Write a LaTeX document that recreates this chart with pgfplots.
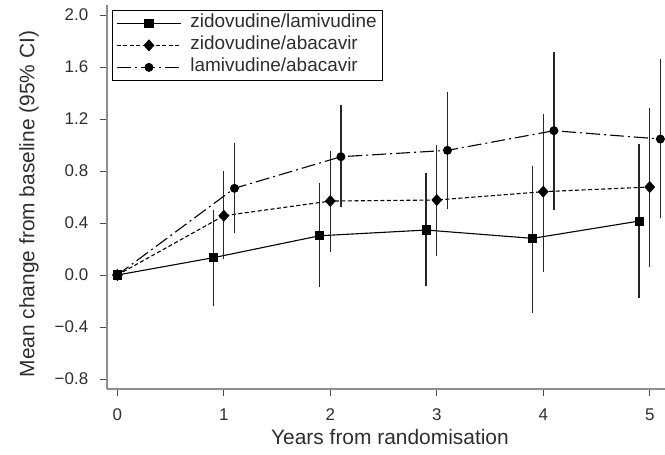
\documentclass[border=0pt]{standalone}
\usepackage{fontspec}
\setmainfont{Liberation Sans}
\usepackage{pgfplots}
\pgfplotsset{compat=1.18}
\usepackage{pgfplotstable}

\definecolor{axgray}{HTML}{8E8E8E}
\definecolor{txt}{HTML}{2E2E2E}

% x, mean, upper and lower half-widths of the 95% CI
\pgfplotstableread{
x    y     ep    em
0    0     0     0
0.9  0.133 0.367 0.371
1.9  0.302 0.403 0.392
2.9  0.346 0.441 0.431
3.9  0.282 0.556 0.577
4.9  0.415 0.590 0.595
}\zidlam

\pgfplotstableread{
x    y     ep    em
0    0     0     0
1    0.456 0.344 0.336
2    0.569 0.387 0.389
3    0.577 0.423 0.431
4    0.641 0.595 0.615
5    0.677 0.610 0.617
}\zidaba

\pgfplotstableread{
x    y     ep    em
0    0     0     0
1.1  0.667 0.346 0.347
2.1  0.910 0.400 0.390
3.1  0.959 0.446 0.451
4.1  1.110 0.608 0.610
5.1  1.046 0.614 0.610
}\lamaba

\begin{document}
\begin{tikzpicture}
\path[use as bounding box] (-106.7bp,-65.7bp) rectangle (558.3bp,389.3bp);
\begin{axis}[
  at={(0,0)}, anchor=south west,
  scale only axis, width=558.3bp, height=384.3bp,
  xmin=-0.1, xmax=5.1435, ymin=-0.879, ymax=2.077,
  axis lines*=left,
  axis line style={-, draw=axgray, line width=1.8bp},
  xtick={0,1,2,3,4,5},
  xticklabels={0,1,2,3,4,5},
  ytick={-0.8,-0.4,0,0.4,0.8,1.2,1.6,2.0},
  yticklabels={−0.8,−0.4,0.0,0.4,0.8,1.2,1.6,2.0},
  tick align=outside, major tick length=7bp,
  tick style={black!70, line width=1bp},
  ticklabel style={font=\fontsize{17}{20}\selectfont, text=txt},
  xticklabel style={yshift=-9bp},
  yticklabel style={xshift=-8bp},
  /pgf/number format/assume math mode=true,
  xlabel={Years from randomisation},
  ylabel={Mean change from baseline (95\% CI)},
  label style={font=\fontsize{21}{25}\selectfont, text=txt},
  xlabel style={at={(axis description cs:0.5074,-0.1241)}, anchor=center},
  ylabel style={at={(axis description cs:-0.1392,0.482)}, anchor=center},
  legend cell align=left,
  legend image code/.code={\draw[mark repeat=2,mark phase=2] plot coordinates {(0bp,0bp) (32bp,0bp) (64bp,0bp)};},
  legend style={at={(axis description cs:0.0095,0.987)}, anchor=north west,
    draw=black, line width=0.8bp, text=txt, inner xsep=4bp,
    font=\fontsize{19}{22}\selectfont,
    nodes={inner ysep=2.5bp, text height=13bp, text depth=4bp},
    /tikz/every odd column/.append style={column sep=7bp}},
  error bars/error bar style={solid, black!85, line width=1.3bp},
]
\addplot[black, line width=1.1bp, mark=square*, mark size=4bp, mark options={solid},
  error bars/.cd, y dir=both, y explicit, error mark=none]
  table[x=x, y=y, y error plus=ep, y error minus=em] {\zidlam};
\addlegendentry{zidovudine/lamivudine}
\addplot[black, line width=1.1bp, dash pattern=on 4bp off 2.5bp, mark=diamond*, mark size=5.2bp, mark options={solid, xscale=1.2},
  error bars/.cd, y dir=both, y explicit, error mark=none]
  table[x=x, y=y, y error plus=ep, y error minus=em] {\zidaba};
\addlegendentry{zidovudine/abacavir}
\addplot[black, line width=1.1bp, dash pattern=on 14bp off 4bp on 2bp off 4bp, mark=*, mark size=3.9bp, mark options={solid},
  error bars/.cd, y dir=both, y explicit, error mark=none]
  table[x=x, y=y, y error plus=ep, y error minus=em] {\lamaba};
\addlegendentry{lamivudine/abacavir}
\end{axis}
\end{tikzpicture}
\end{document}
